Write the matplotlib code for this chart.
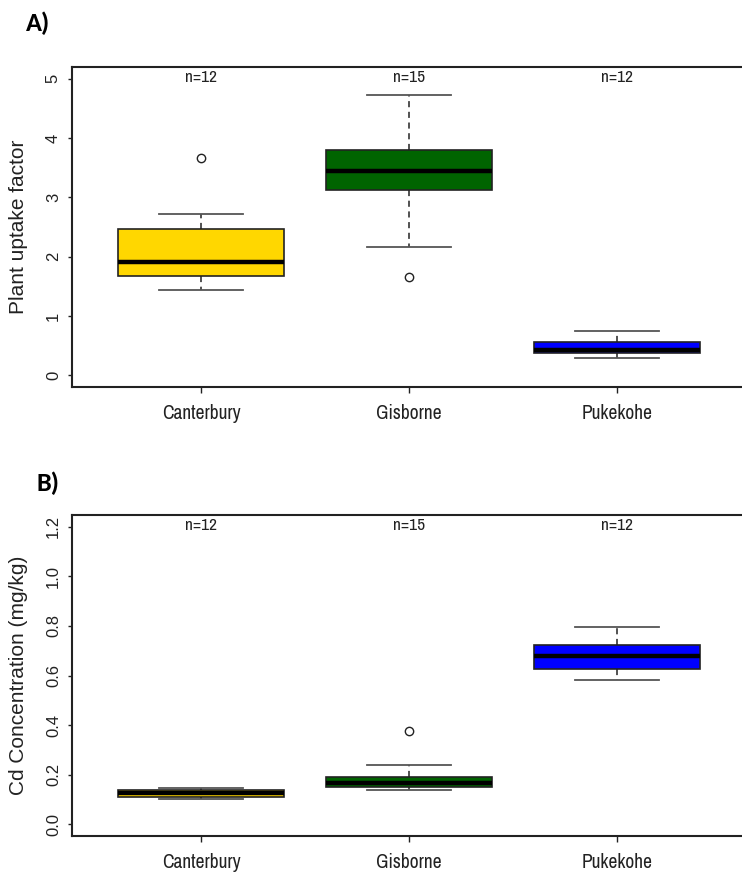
import matplotlib
matplotlib.use("Agg")
import matplotlib.pyplot as plt
import matplotlib.transforms as mtransforms
from matplotlib import font_manager

sites = ["Canterbury", "Gisborne", "Pukekohe"]
counts = [12, 15, 12]
colors = ["#FFD700", "#006400", "#0000FF"]

# panel A: plant uptake factor
puf_whislo = [1.44, 2.16, 0.29]
puf_q1 = [1.68, 3.12, 0.37]
puf_med = [1.91, 3.45, 0.42]
puf_q3 = [2.46, 3.80, 0.56]
puf_whishi = [2.72, 4.72, 0.74]
puf_fliers = [[3.66], [1.66], []]

# panel B: Cd concentration (mg/kg)
cd_whislo = [0.102, 0.136, 0.580]
cd_q1 = [0.108, 0.151, 0.627]
cd_med = [0.126, 0.164, 0.677]
cd_q3 = [0.137, 0.191, 0.725]
cd_whishi = [0.147, 0.240, 0.796]
cd_fliers = [[], [0.377], []]

have = set(f.name for f in font_manager.fontManager.ttflist)
narrow = [n for n in ["Liberation Sans Narrow", "Archivo Narrow", "Arimo"] if n in have]
SANS = ["Liberation Sans", "DejaVu Sans"]
NARROW = narrow + ["Liberation Sans", "DejaVu Sans"]
BOLD = ["Carlito", "Lato", "DejaVu Sans"]
INK = "#222222"

fig = plt.figure(figsize=(7.42, 8.72), dpi=100)
W, H = 742.0, 872.0


def make_stats(lo, q1, med, q3, hi, fl):
    out = []
    for i in range(len(lo)):
        out.append(dict(whislo=lo[i], q1=q1[i], med=med[i], q3=q3[i],
                        whishi=hi[i], fliers=fl[i], label=sites[i]))
    return out


def panel(top, bottom, stats, ymax, yticks, ylabel, letter, letter_xy):
    ax = fig.add_axes([72 / W, 1 - bottom / H, 674 / W, (bottom - top) / H])
    res = ax.bxp(stats, positions=[1, 2, 3], widths=0.8, capwidths=0.4,
                 patch_artist=True, showfliers=True,
                 boxprops=dict(edgecolor=INK, linewidth=1.2),
                 medianprops=dict(color="black", linewidth=3.2, solid_capstyle="butt"),
                 whiskerprops=dict(color=INK, linewidth=1.1, linestyle=(0, (4, 3))),
                 capprops=dict(color="#555555", linewidth=1.3),
                 flierprops=dict(marker="o", markersize=6, markerfacecolor="white",
                                 markeredgecolor=INK, markeredgewidth=1.0))
    for patch, c in zip(res["boxes"], colors):
        patch.set_facecolor(c)
    pad = 0.04 * ymax
    ax.set_ylim(-pad, ymax + pad)
    ax.set_xlim(0.38, 3.62)
    ax.set_yticks(yticks)
    ax.set_yticklabels([("%g" % t) if ymax > 2 else ("%.1f" % t) for t in yticks],
                       rotation=90, va="center", family=SANS, fontsize=12, color=INK)
    ax.set_xticks([1, 2, 3])
    ax.set_xticklabels(sites, family=NARROW, fontsize=14, color=INK)
    ax.tick_params(axis="y", length=3, width=1, pad=5, colors=INK)
    ax.tick_params(axis="x", length=4, width=1, pad=8, colors=INK)
    ax.set_ylabel(ylabel, family=SANS, fontsize=15, color=INK)
    ax.yaxis.set_label_coords(-0.066, 0.5)
    for s in ["left", "bottom", "top"]:
        ax.spines[s].set_linewidth(1.5)
        ax.spines[s].set_color(INK)
    ax.spines["right"].set_visible(False)
    trans = mtransforms.blended_transform_factory(ax.transData, ax.transAxes)
    for i, n in enumerate(counts):
        ax.text(i + 1, 0.968, "n=%d" % n, transform=trans, ha="center", va="center",
                family=NARROW, fontsize=12.5, color=INK)
    fig.text(letter_xy[0] / W, 1 - letter_xy[1] / H, letter, family=BOLD,
             fontweight="bold", fontsize=19, ha="left", va="center")
    return ax


panel(67, 387, make_stats(puf_whislo, puf_q1, puf_med, puf_q3, puf_whishi, puf_fliers),
      5, [0, 1, 2, 3, 4, 5], "Plant uptake factor", "A)", (26, 23))
panel(515, 836, make_stats(cd_whislo, cd_q1, cd_med, cd_q3, cd_whishi, cd_fliers),
      1.2, [0.0, 0.2, 0.4, 0.6, 0.8, 1.0, 1.2], "Cd Concentration (mg/kg)", "B)", (37, 483))

fig.savefig("out.png", dpi=100)
